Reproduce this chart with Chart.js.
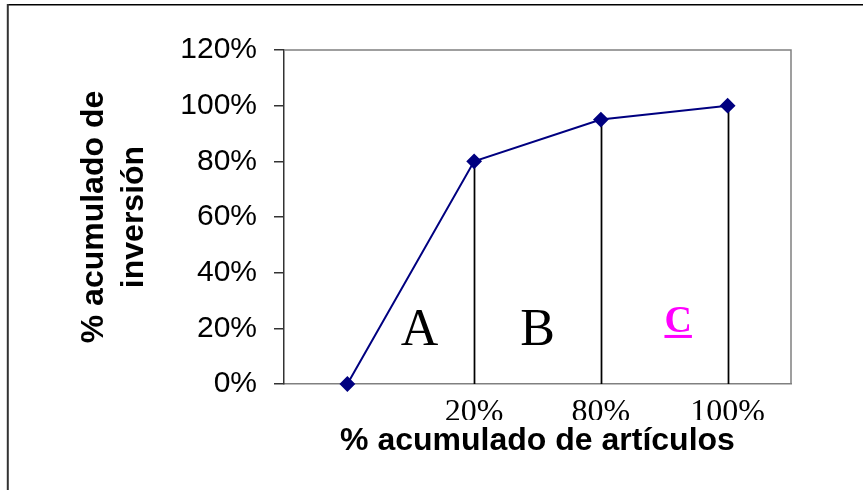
<!DOCTYPE html>
<html>
<head>
<meta charset="utf-8">
<script src="https://cdn.jsdelivr.net/npm/chart.js@4/dist/chart.umd.min.js"></script>
<style>
  body { margin: 0; background: #fff; }
  #wrap { width: 863px; height: 490px; position: relative; }
</style>
</head>
<body>
<div id="wrap"><canvas id="grafico-abc"></canvas></div>
<script>
// Curva ABC: % acumulado de artículos vs % acumulado de inversión
const categorias = ['', '20%', '80%', '100%'];
const inversionAcum = [0, 0.80, 0.95, 1.00];
const yTicks = [0, 0.2, 0.4, 0.6, 0.8, 1.0, 1.2];
const zonas = ['A', 'B', 'C'];
const tituloX = '% acumulado de artículos';
const tituloY = ['% acumulado de', 'inversión'];

const SANS = '"Liberation Sans", Arial, sans-serif';
const SERIF = '"Liberation Serif", "Times New Roman", serif';

const pct = v => Math.round(v * 100) + '%';

// marco exterior (solo borde superior e izquierdo)
const marco = {
  id: 'marco',
  beforeDraw(chart) {
    const ctx = chart.ctx;
    ctx.save();
    ctx.strokeStyle = '#000';
    ctx.lineWidth = 1.5;
    ctx.beginPath();
    ctx.moveTo(8, 4.75);
    ctx.lineTo(chart.width, 4.75);
    ctx.stroke();
    ctx.strokeStyle = '#333';
    ctx.lineWidth = 2;
    ctx.beginPath();
    ctx.moveTo(7.8, 4);
    ctx.lineTo(7.8, chart.height);
    ctx.stroke();
    ctx.restore();
  }
};

// borde gris del área de trazado + líneas verticales de cada punto
const lineasABC = {
  id: 'lineasABC',
  beforeDatasetsDraw(chart) {
    const { ctx, chartArea: a, scales: { x, y } } = chart;
    ctx.save();
    ctx.strokeStyle = '#808080';
    ctx.lineWidth = 1.5;
    ctx.beginPath();
    ctx.moveTo(a.left, a.top);
    ctx.lineTo(a.right, a.top);
    ctx.lineTo(a.right, a.bottom);
    ctx.stroke();

    ctx.strokeStyle = '#000';
    ctx.lineWidth = 1.75;
    for (let i = 1; i < inversionAcum.length; i++) {
      const px = Math.round(x.getPixelForValue(i)) + 0.5;
      ctx.beginPath();
      ctx.moveTo(px, y.getPixelForValue(inversionAcum[i]));
      ctx.lineTo(px, a.bottom);
      ctx.stroke();
    }
    ctx.restore();
  },
  afterDatasetsDraw(chart) {
    const { ctx, scales: { x, y } } = chart;
    // posición de cada letra en unidades de la escala
    const pos = [[0.57, 0.14], [1.5, 0.14], [2.61, 0.187]];
    ctx.save();
    ctx.textAlign = 'center';
    ctx.textBaseline = 'alphabetic';
    zonas.forEach((z, i) => {
      const px = x.getPixelForValue(pos[i][0]);
      const py = y.getPixelForValue(pos[i][1]);
      if (z === 'C') {
        ctx.font = 'bold 38px ' + SERIF;
        ctx.fillStyle = '#ff00ff';
        ctx.fillText(z, px, py);
        const w = ctx.measureText(z).width;
        ctx.fillRect(px - w / 2, py + 3, w, 3);
      } else {
        ctx.font = '52px ' + SERIF;
        ctx.fillStyle = '#000';
        ctx.fillText(z, px, py);
      }
    });
    ctx.restore();
  },
  // título del eje X con fondo blanco (tapa la parte baja de las etiquetas)
  afterDraw(chart) {
    const { ctx, chartArea: a } = chart;
    const cx = (a.left + a.right) / 2;
    ctx.save();
    ctx.font = 'bold 32px ' + SANS;
    const w = ctx.measureText(tituloX).width;
    ctx.fillStyle = '#fff';
    ctx.fillRect(cx - w / 2 - 40, 420, w + 80, 40);
    ctx.fillStyle = '#000';
    ctx.textAlign = 'center';
    ctx.textBaseline = 'alphabetic';
    ctx.fillText(tituloX, cx, 450);
    ctx.restore();
  }
};

new Chart(document.getElementById('grafico-abc'), {
  type: 'line',
  data: {
    labels: categorias,
    datasets: [{
      data: inversionAcum,
      borderColor: '#000080',
      borderWidth: 2,
      backgroundColor: '#000080',
      pointStyle: 'rectRot',
      pointRadius: 6.5,
      pointBackgroundColor: '#000080',
      pointBorderColor: '#000080',
      tension: 0,
      clip: false
    }]
  },
  options: {
    responsive: true,
    maintainAspectRatio: false,
    animation: false,
    layout: { padding: { left: 0, top: 50, right: 72, bottom: 0 } },
    plugins: {
      legend: { display: false },
      tooltip: { enabled: false }
    },
    scales: {
      x: {
        offset: true,
        grid: { display: false, drawTicks: false },
        border: { display: true, color: '#808080', width: 1.5 },
        ticks: {
          color: '#000',
          padding: 9,
          maxRotation: 0,
          autoSkip: false,
          font: { family: SERIF, size: 32 }
        },
        afterFit(scale) { scale.height = 106; }
      },
      y: {
        min: 0,
        max: 1.2,
        afterBuildTicks(scale) { scale.ticks = yTicks.map(v => ({ value: v })); },
        grid: {
          drawOnChartArea: false,
          drawTicks: true,
          tickLength: 10,
          color: '#333',
          lineWidth: 1.5
        },
        border: { display: true, color: '#333', width: 1.5 },
        ticks: {
          color: '#000',
          padding: 17,
          font: { family: SANS, size: 30 },
          callback: v => pct(v)
        },
        title: {
          display: true,
          text: tituloY,
          color: '#000',
          padding: { top: 74, bottom: 0 },
          font: { family: SANS, size: 32, weight: 'bold', lineHeight: '40px' }
        },
        afterFit(scale) { scale.width = 284; }
      }
    }
  },
  plugins: [marco, lineasABC]
});
</script>
</body>
</html>
